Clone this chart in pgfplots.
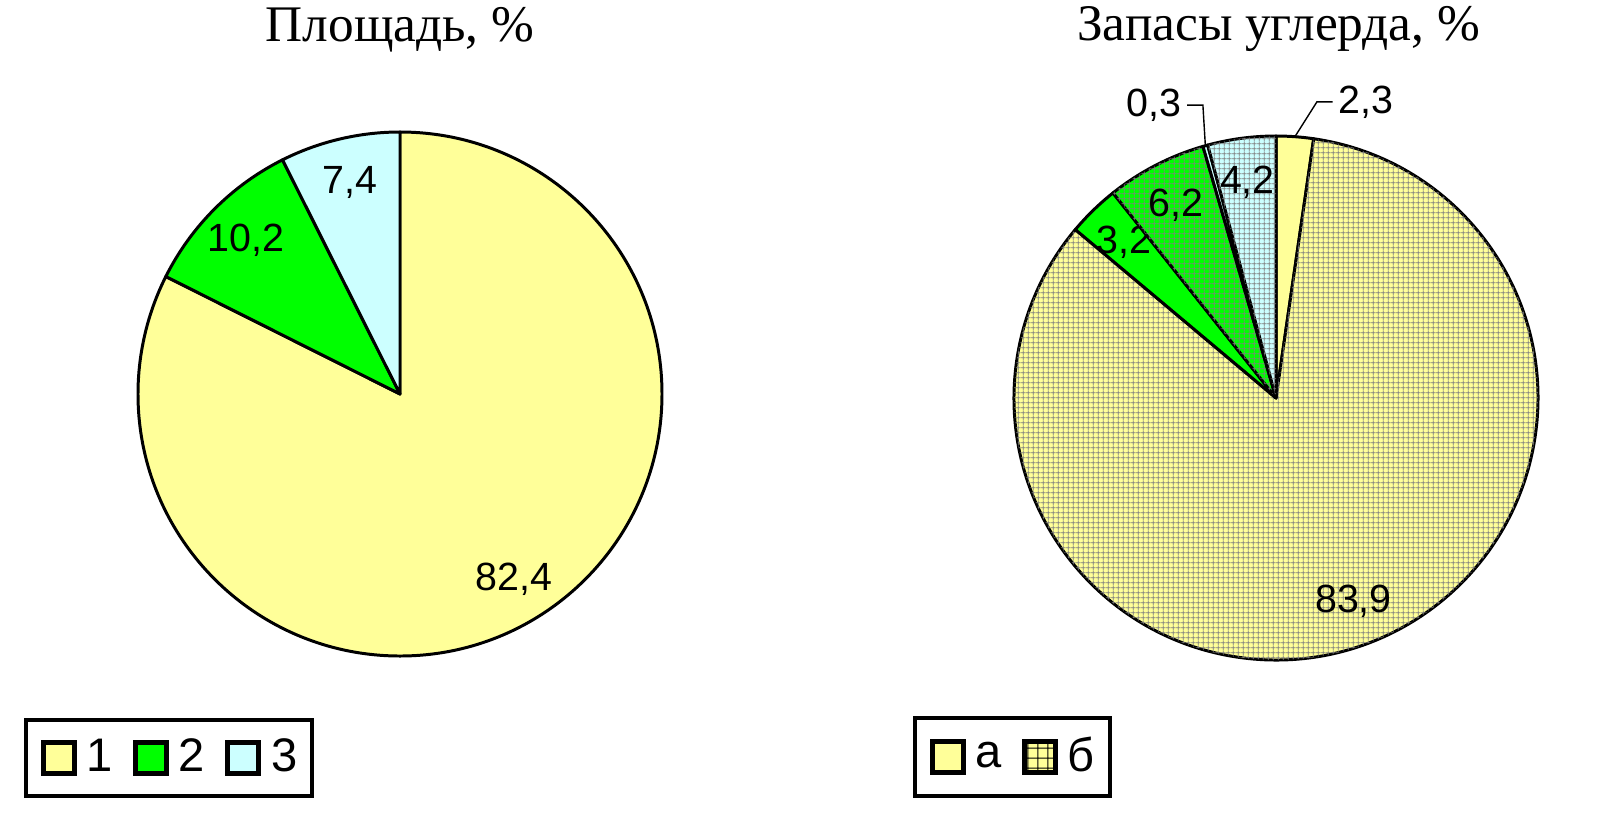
\documentclass[border=0pt]{standalone}
\usepackage{fontspec}
\setmainfont{Liberation Serif}
\newfontfamily\arial{Liberation Sans}
\usepackage{pgfplots}
\usepackage{pgfplotstable}
\pgfplotsset{compat=1.18}
\usetikzlibrary{patterns}

\definecolor{cA}{RGB}{255,255,153}
\definecolor{cB}{RGB}{0,255,0}
\definecolor{cC}{RGB}{204,255,255}

% fine square grid used for the "б" slices
\pgfdeclarepatternformonly{fgrid}{\pgfqpoint{0pt}{0pt}}{\pgfqpoint{1.5pt}{1.5pt}}{\pgfqpoint{1.5pt}{1.5pt}}{%
  \pgfsetlinewidth{0.25pt}%
  \pgfpathmoveto{\pgfqpoint{0.75pt}{0pt}}\pgfpathlineto{\pgfqpoint{0.75pt}{1.5pt}}%
  \pgfpathmoveto{\pgfqpoint{0pt}{0.75pt}}\pgfpathlineto{\pgfqpoint{1.5pt}{0.75pt}}%
  \pgfusepath{stroke}}
% coarser one for the legend square
\pgfdeclarepatternformonly{lgrid}{\pgfqpoint{0pt}{0pt}}{\pgfqpoint{2.8pt}{2.8pt}}{\pgfqpoint{2.8pt}{2.8pt}}{%
  \pgfsetlinewidth{0.3pt}%
  \pgfpathmoveto{\pgfqpoint{1.4pt}{0pt}}\pgfpathlineto{\pgfqpoint{1.4pt}{2.8pt}}%
  \pgfpathmoveto{\pgfqpoint{0pt}{1.4pt}}\pgfpathlineto{\pgfqpoint{2.8pt}{1.4pt}}%
  \pgfusepath{stroke}}

\newcommand\titlefont{\fontsize{14.6}{17}\selectfont}
\newcommand\lblfont{\arial\fontsize{11.2}{13}\selectfont}
\newcommand\legfont{\arial\fontsize{13.4}{16}\selectfont}

% kx ky: knee of the leader line for labels set outside (0 0 = label inside)
\pgfplotstableread{
val  col pat lab  kx     ky
82.4 cA  0   82,4 0      0
10.2 cB  0   10,2 0      0
7.4  cC  0   7,4  0      0
}\areatab

\pgfplotstableread{
val  col pat lab  kx     ky
2.3  cA  0   2,3  0.156  1.130
83.9 cA  1   83,9 0      0
3.2  cB  0   3,2  0      0
6.2  cB  1   6,2  0      0
0.3  cC  0   0,3  -0.279 1.118
4.2  cC  1   4,2  0      0
}\carbtab

% slices clockwise from 12 o'clock, shares of the column total
\newcommand\drawpie[1]{%
  \pgfplotstablegetrowsof{#1}%
  \pgfmathtruncatemacro\nlast{\pgfplotsretval-1}%
  \def\tot{0}%
  \pgfplotsforeachungrouped \i in {0,...,\nlast}{%
    \pgfplotstablegetelem{\i}{val}\of#1%
    \pgfmathsetmacro\tot{\tot+\pgfplotsretval}}%
  \def\cum{0}%
  \pgfplotsforeachungrouped \i in {0,...,\nlast}{%
    \pgfplotstablegetelem{\i}{val}\of#1\let\slval\pgfplotsretval
    \pgfplotstablegetelem{\i}{col}\of#1\let\slcol\pgfplotsretval
    \pgfplotstablegetelem{\i}{pat}\of#1\let\slpat\pgfplotsretval
    \pgfplotstablegetelem{\i}{lab}\of#1\let\sllab\pgfplotsretval
    \pgfplotstablegetelem{\i}{kx}\of#1\let\slkx\pgfplotsretval
    \pgfplotstablegetelem{\i}{ky}\of#1\let\slky\pgfplotsretval
    \pgfmathsetmacro\aS{90-360*(\cum/\tot)}%
    \pgfmathsetmacro\cum{\cum+\slval}%
    \pgfmathsetmacro\aE{90-360*(\cum/\tot)}%
    \pgfmathsetmacro\aM{(\aS+\aE)/2}%
    \pgfmathsetmacro\sx{cos(\aS)}\pgfmathsetmacro\sy{sin(\aS)}%
    \pgfmathsetmacro\mx{cos(\aM)}\pgfmathsetmacro\my{sin(\aM)}%
    \edef\temp{\noexpand\filldraw[fill=\slcol, draw=black, line width=0.85pt, line join=round
      \ifnum\slpat=1 , postaction={pattern=fgrid, pattern color=black!50}\fi]
      (axis cs:0,0) -- (axis cs:\sx,\sy) arc[start angle=\aS, end angle=\aE, radius=2.62cm] -- cycle;}%
    \temp
    \ifdim\slkx pt=0pt
      \pgfmathsetmacro\lx{0.83*\mx}\pgfmathsetmacro\ly{0.83*\my}%
      \edef\temp{\noexpand\node[font=\noexpand\lblfont, inner sep=0pt] at (axis cs:\lx,\ly) {\sllab};}%
    \else
      \ifdim\slkx pt>0pt \def\ldir{1}\def\lanc{west}\else\def\ldir{-1}\def\lanc{east}\fi
      \pgfmathsetmacro\tx{\slkx+\ldir*0.06}%
      \edef\temp{\noexpand\draw[line width=0.4pt] (axis cs:\mx,\my) -- (axis cs:\slkx,\slky) -- (axis cs:\tx,\slky)
        node[anchor=\lanc, inner sep=1.5pt, font=\noexpand\lblfont] {\sllab};}%
    \fi
    \temp
  }}

\pgfplotsset{
  pieaxis/.style={
    hide axis, scale only axis, clip=false,
    width=5.24cm, height=5.24cm,
    xmin=-1, xmax=1, ymin=-1, ymax=1,
    legend columns=-1,
    legend cell align=left,
    legend image code/.code={\draw[##1, draw=black, line width=1.4pt] (0cm,-0.155cm) rectangle (0.31cm,0.155cm);},
    legend style={draw=black, line width=1.1pt, font=\legfont,
      inner xsep=0.15cm, inner ysep=0.19cm, nodes={inner sep=0pt},
      /tikz/column 1/.style={column sep=0.1cm},
      /tikz/column 2/.style={column sep=0.2cm},
      /tikz/column 3/.style={column sep=0.1cm},
      /tikz/column 4/.style={column sep=0.2cm},
      /tikz/column 5/.style={column sep=0.1cm}},
  }
}

\begin{document}
\begin{tikzpicture}
\useasboundingbox (0,0) rectangle (16.16,8.22);

\begin{axis}[pieaxis, at={(1.38cm,1.66cm)}, anchor=south west,
  legend style={at={(-0.2176,-0.271)}, anchor=south west}]
  \addlegendimage{fill=cA}\addlegendentry{1}
  \addlegendimage{fill=cB}\addlegendentry{2}
  \addlegendimage{fill=cC}\addlegendentry{3}
  \drawpie{\areatab}
  \node[anchor=base, font=\titlefont] at (axis cs:0,1.347) {Площадь, \%};
\end{axis}

\begin{axis}[pieaxis, at={(10.14cm,1.62cm)}, anchor=south west,
  legend style={at={(-0.193,-0.263)}, anchor=south west,
    /tikz/column 4/.style={}}]
  \addlegendimage{fill=cA}\addlegendentry{а}
  \addlegendimage{fill=cA, postaction={pattern=lgrid, pattern color=black}}\addlegendentry{б}
  \drawpie{\carbtab}
  \node[anchor=base, font=\titlefont] at (axis cs:0.01,1.363) {Запасы углерда, \%};
\end{axis}
\end{tikzpicture}
\end{document}
